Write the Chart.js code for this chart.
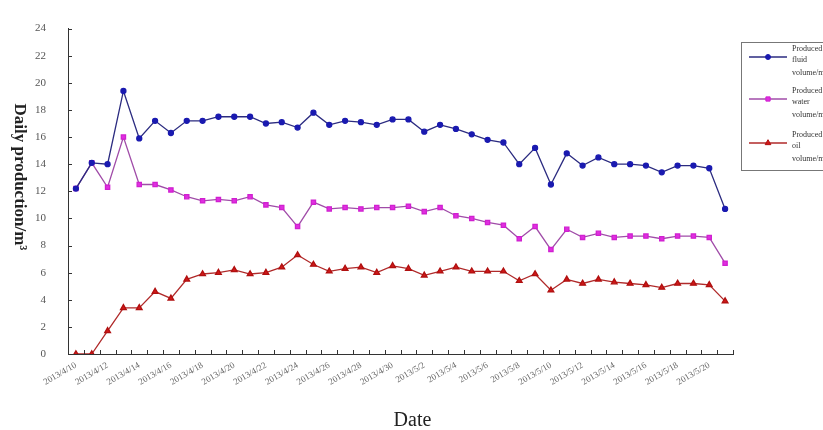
<!DOCTYPE html>
<html>
<head>
<meta charset="utf-8">
<script src="https://cdn.jsdelivr.net/npm/chart.js@4/dist/chart.umd.min.js"></script>
<style>
  html, body { margin: 0; padding: 0; background: #fff; }
  #wrap { width: 823px; height: 430px; position: relative; }
</style>
</head>
<body>
<div id="wrap"><canvas id="c" width="823" height="430"></canvas></div>
<script>
// Daily production records of the well, 2013/4/10 - 2013/5/21
const dates = [
  '2013/4/10','2013/4/11','2013/4/12','2013/4/13','2013/4/14','2013/4/15','2013/4/16',
  '2013/4/17','2013/4/18','2013/4/19','2013/4/20','2013/4/21','2013/4/22','2013/4/23',
  '2013/4/24','2013/4/25','2013/4/26','2013/4/27','2013/4/28','2013/4/29','2013/4/30',
  '2013/5/1','2013/5/2','2013/5/3','2013/5/4','2013/5/5','2013/5/6','2013/5/7',
  '2013/5/8','2013/5/9','2013/5/10','2013/5/11','2013/5/12','2013/5/13','2013/5/14',
  '2013/5/15','2013/5/16','2013/5/17','2013/5/18','2013/5/19','2013/5/20','2013/5/21'
];

const fluidVolume = [
  12.2, 14.1, 14.0, 19.4, 15.9, 17.2, 16.3, 17.2, 17.2, 17.5,
  17.5, 17.5, 17.0, 17.1, 16.7, 17.8, 16.9, 17.2, 17.1, 16.9,
  17.3, 17.3, 16.4, 16.9, 16.6, 16.2, 15.8, 15.6, 14.0, 15.2,
  12.5, 14.8, 13.9, 14.5, 14.0, 14.0, 13.9, 13.4, 13.9, 13.9,
  13.7, 10.7
];

const waterVolume = [
  12.2, 14.1, 12.3, 16.0, 12.5, 12.5, 12.1, 11.6, 11.3, 11.4,
  11.3, 11.6, 11.0, 10.8, 9.4, 11.2, 10.7, 10.8, 10.7, 10.8,
  10.8, 10.9, 10.5, 10.8, 10.2, 10.0, 9.7, 9.5, 8.5, 9.4,
  7.7, 9.2, 8.6, 8.9, 8.6, 8.7, 8.7, 8.5, 8.7, 8.7,
  8.6, 6.7
];

const oilVolume = [
  0, 0, 1.7, 3.4, 3.4, 4.6, 4.1, 5.5, 5.9, 6.0,
  6.2, 5.9, 6.0, 6.4, 7.3, 6.6, 6.1, 6.3, 6.4, 6.0,
  6.5, 6.3, 5.8, 6.1, 6.4, 6.1, 6.1, 6.1, 5.4, 5.9,
  4.7, 5.5, 5.2, 5.5, 5.3, 5.2, 5.1, 4.9, 5.2, 5.2,
  5.1, 3.9
];

const seriesNames = ['Produced fluid volume/m\u00B3', 'Produced water volume/m\u00B3', 'Produced oil volume/m\u00B3'];
const yAxisTitle = 'Daily production/m\u00B3';
const xAxisTitle = 'Date';
const yMin = 0, yMax = 24, yStep = 2;

const SERIF = '"Liberation Serif", "DejaVu Serif", serif';

// Short inward tick marks on both axes
const innerTicks = {
  id: 'innerTicks',
  afterDraw(chart) {
    const { ctx, chartArea: a, scales: { x, y } } = chart;
    ctx.save();
    ctx.strokeStyle = '#333';
    ctx.lineWidth = 1;
    ctx.beginPath();
    y.ticks.forEach((t) => {
      const py = Math.round(y.getPixelForValue(t.value)) + 0.5;
      ctx.moveTo(a.left, py); ctx.lineTo(a.left + 4, py);
    });
    const n = dates.length;
    for (let i = 0; i <= n; i++) {
      const px = Math.round(x.getPixelForValue(i - 0.5)) + 0.5;
      ctx.moveTo(px, a.bottom); ctx.lineTo(px, a.bottom - 4);
    }
    ctx.stroke();
    ctx.restore();
  }
};

// Axis titles: vertical title reads top to bottom
const axisTitles = {
  id: 'axisTitles',
  afterDraw(chart) {
    const { ctx, chartArea: a } = chart;
    ctx.save();
    ctx.fillStyle = '#222';
    ctx.font = 'bold 17px ' + SERIF;
    ctx.textAlign = 'center';
    ctx.textBaseline = 'middle';
    ctx.translate(19, 177);
    ctx.rotate(Math.PI / 2);
    ctx.fillText(yAxisTitle, 0, 0);
    ctx.restore();

    ctx.save();
    ctx.fillStyle = '#222';
    ctx.font = '20px ' + SERIF;
    ctx.textAlign = 'center';
    ctx.textBaseline = 'alphabetic';
    ctx.fillText(xAxisTitle, (a.left + a.right) / 2 + 12, 426);
    ctx.restore();
  }
};

// Boxed legend at the right with wrapped series names
const boxLegend = {
  id: 'boxLegend',
  afterDraw(chart) {
    const { ctx } = chart;
    const left = 741, top = 42, bottom = 170;
    ctx.save();
    ctx.strokeStyle = '#777';
    ctx.lineWidth = 1;
    ctx.strokeRect(left + 0.5, top + 0.5, 823 - left + 10, bottom - top);
    const rows = [57, 99, 143];
    chart.data.datasets.forEach((ds, i) => {
      const cy = rows[i];
      ctx.strokeStyle = ds.borderColor;
      ctx.lineWidth = 1.3;
      ctx.beginPath();
      ctx.moveTo(749, cy); ctx.lineTo(787, cy);
      ctx.stroke();
      ctx.fillStyle = ds.pointBackgroundColor;
      ctx.strokeStyle = ds.pointBorderColor;
      ctx.lineWidth = 1;
      Chart.helpers.drawPoint(ctx, {
        pointStyle: ds.pointStyle,
        radius: ds.pointRadius,
        borderWidth: 1
      }, 768, cy);
      const words = ds.label.split(' ');
      const lines = [words[0], words[1], words.slice(2).join(' ')];
      ctx.fillStyle = '#333';
      ctx.font = '8px ' + SERIF;
      ctx.textAlign = 'left';
      ctx.textBaseline = 'middle';
      const offs = [-8, 3, 16];
      lines.forEach((ln, k) => ctx.fillText(ln, 792, cy + offs[k]));
    });
    ctx.restore();
  }
};

const ctx = document.getElementById('c').getContext('2d');
new Chart(ctx, {
  type: 'line',
  data: {
    labels: dates,
    datasets: [
      {
        label: seriesNames[0],
        data: fluidVolume,
        borderColor: '#2b2b80',
        backgroundColor: '#1a1ab0',
        pointBackgroundColor: '#1a1ab0',
        pointBorderColor: '#1a1ab0',
        pointStyle: 'circle',
        pointRadius: 2.5,
        borderWidth: 1.3,
        tension: 0
      },
      {
        label: seriesNames[1],
        data: waterVolume,
        borderColor: '#a04ca8',
        backgroundColor: '#e02ee0',
        pointBackgroundColor: '#e02ee0',
        pointBorderColor: '#d020d0',
        pointStyle: 'rect',
        pointRadius: 3,
        borderWidth: 1.3,
        tension: 0
      },
      {
        label: seriesNames[2],
        data: oilVolume,
        borderColor: '#b02a2a',
        backgroundColor: '#d01818',
        pointBackgroundColor: '#d01818',
        pointBorderColor: '#b01010',
        pointStyle: 'triangle',
        pointRadius: 3.3,
        borderWidth: 1.3,
        tension: 0
      }
    ]
  },
  options: {
    responsive: false,
    animation: false,
    layout: { padding: { left: 0, right: 90, top: 19, bottom: 0 } },
    plugins: {
      legend: { display: false },
      title: { display: false },
      tooltip: { enabled: false }
    },
    scales: {
      x: {
        type: 'category',
        offset: true,
        grid: { display: false, drawTicks: false },
        border: { display: true, color: '#333', width: 1 },
        ticks: {
          autoSkip: false,
          maxRotation: 30,
          minRotation: 30,
          padding: 6,
          color: '#666',
          font: { family: SERIF, size: 9 },
          callback: function (v, i) { return i % 2 === 0 ? dates[i] : ''; }
        },
        afterFit(scale) { scale.height = 76; }
      },
      y: {
        min: yMin,
        max: yMax,
        grid: { display: false, drawTicks: false },
        border: { display: true, color: '#333', width: 1 },
        ticks: {
          stepSize: yStep,
          padding: 22,
          color: '#555',
          font: { family: SERIF, size: 11 }
        },
        afterFit(scale) { scale.width = 68; }
      }
    }
  },
  plugins: [innerTicks, axisTitles, boxLegend]
});
</script>
</body>
</html>
